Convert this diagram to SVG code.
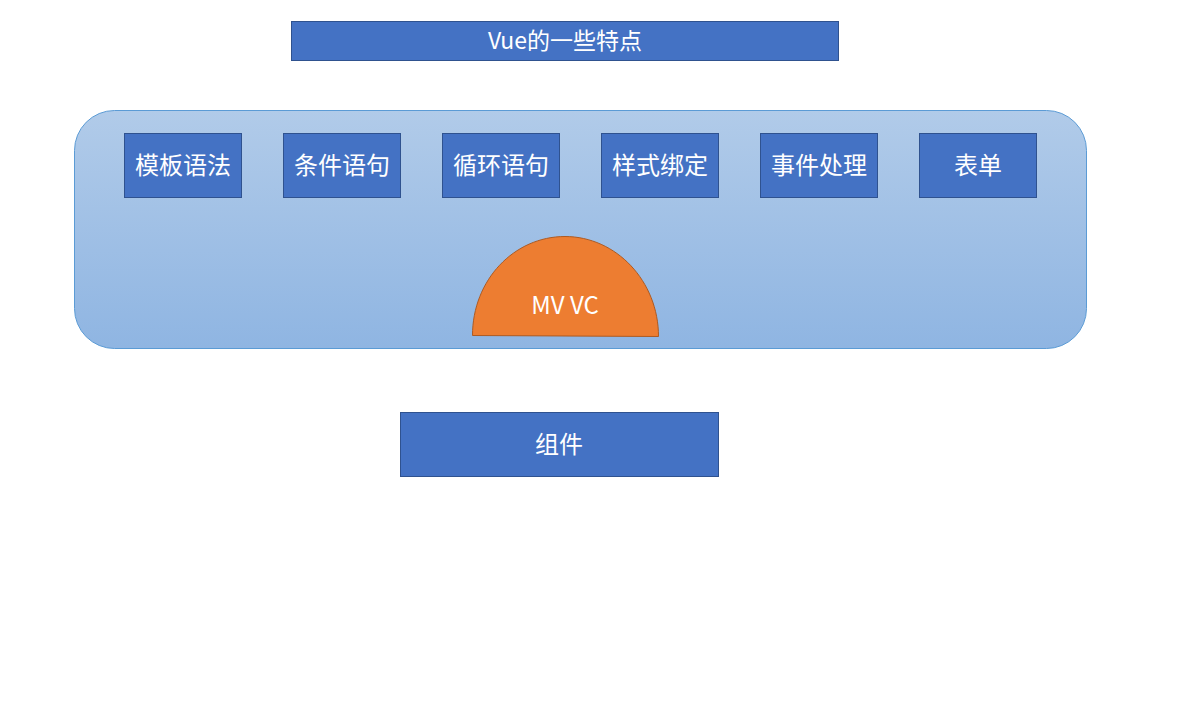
<svg xmlns="http://www.w3.org/2000/svg" width="1180" height="707" viewBox="0 0 1180 707">
<style>
.box{fill:#4472c4;stroke:#2f528f;stroke-width:1}
.t{fill:#ffffff;font-family:"Noto Sans CJK SC","Noto Sans",sans-serif;text-anchor:middle;dominant-baseline:central}
</style>
<defs>
<linearGradient id="g" x1="0" y1="0" x2="0" y2="1">
<stop offset="0" stop-color="#b1cbe9"/>
<stop offset="1" stop-color="#8fb5e2"/>
</linearGradient>
</defs>
<rect width="1180" height="707" fill="#ffffff"/>
<g id="title"><rect class="box" x="291.5" y="21.5" width="547" height="39"/><text class="t" x="565" y="39" font-size="23">Vue的一些特点</text></g>
<g id="container"><rect x="74.5" y="110.5" width="1012" height="238" rx="40" fill="url(#g)" stroke="#5b9bd5" stroke-width="1"/></g>
<g id="n1"><rect class="box" x="124.5" y="133.5" width="117" height="64"/><text class="t" x="183" y="163.5" font-size="24">模板语法</text></g>
<g id="n2"><rect class="box" x="283.5" y="133.5" width="117" height="64"/><text class="t" x="342" y="163.5" font-size="24">条件语句</text></g>
<g id="n3"><rect class="box" x="442.5" y="133.5" width="117" height="64"/><text class="t" x="501" y="163.5" font-size="24">循环语句</text></g>
<g id="n4"><rect class="box" x="601.5" y="133.5" width="117" height="64"/><text class="t" x="660" y="163.5" font-size="24">样式绑定</text></g>
<g id="n5"><rect class="box" x="760.5" y="133.5" width="117" height="64"/><text class="t" x="819" y="163.5" font-size="24">事件处理</text></g>
<g id="n6"><rect class="box" x="919.5" y="133.5" width="117" height="64"/><text class="t" x="978" y="163.5" font-size="24">表单</text></g>
<g id="mvvc"><path d="M472.5,335.5 C472.5,280 514,236.5 565,236.5 C616,236.5 658.5,281 658.5,336.5 Z" fill="#ed7d31" stroke="#ae5a21" stroke-width="1"/><text class="t" x="565" y="303.5" font-size="24">MV VC</text></g>
<g id="comp"><rect class="box" x="400.5" y="412.5" width="318" height="64"/><text class="t" x="559" y="442.5" font-size="24">组件</text></g>
<g id="connectors"></g>
</svg>
